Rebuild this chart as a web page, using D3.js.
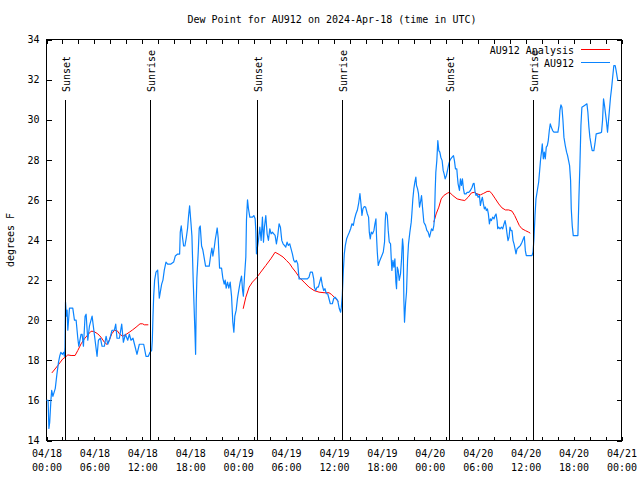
<!DOCTYPE html>
<html><head><meta charset="utf-8">
<script src="https://cdn.jsdelivr.net/npm/d3@7"></script>
<style>
body{margin:0;background:#fff}
svg{display:block}
text{font-family:"DejaVu Sans Mono",monospace;font-size:10px;fill:#000}
</style>
</head><body><svg id="c" width="640" height="480"></svg>
<script>
// Observations (hours after 2024-04-18 00:00 UTC, degrees F)
const obsHours = [0,0.2,0.3,0.4,0.55,0.65,0.8,1.1,1.3,1.5,1.65,1.8,2.0,2.15,2.25,2.32,2.38,2.5,2.58,2.67,2.875,3.29,3.5,3.71,3.92,4.04,4.33,4.46,4.625,4.83,4.96,5.17,5.375,5.71,6.33,6.5,6.75,6.96,7.25,7.46,7.67,7.875,8.21,8.5,8.67,8.83,9.125,9.42,9.625,9.875,10.17,10.375,10.58,10.83,11.08,11.33,11.625,12.17,12.46,12.75,12.96,
13.17,13.25,13.33,13.42,13.54,13.71,13.92,14.125,14.25,14.42,14.58,14.75,14.96,15.17,15.58,15.92,16.125,16.42,16.67,16.75,16.875,17.04,17.17,17.33,17.5,17.67,17.79,17.92,18.08,18.21,18.375,18.58,18.67,18.75,18.83,19.0,19.125,19.25,19.42,19.58,19.75,19.92,20.375,20.58,20.71,20.83,21.0,21.125,21.25,21.375,21.5,21.67,21.92,22.08,22.25,22.375,22.5,22.67,22.83,23.0,23.17,23.33,23.46,23.58,23.75,23.92,24.08,24.25,24.42,24.55,24.65,24.79,24.96,
25.04,25.17,25.29,25.46,25.79,25.96,26.125,26.21,26.29,26.42,26.54,26.71,26.875,27.04,27.17,27.29,27.46,27.625,27.79,27.96,28.125,28.29,28.46,28.625,28.79,28.96,29.125,29.29,29.46,29.625,29.79,29.96,30.125,30.29,30.46,30.625,30.79,30.96,31.125,31.29,31.46,31.625,32.67,32.875,33.04,33.29,33.46,33.54,33.71,33.875,34.04,34.21,34.375,34.54,34.71,34.875,35.04,35.21,35.375,35.54,35.79,35.96,36.125,36.29,36.46,
36.67,36.83,36.92,37.04,37.17,37.29,37.42,37.58,37.75,37.92,38.08,38.25,38.42,38.58,38.75,38.92,39.08,39.25,39.375,39.5,39.625,39.79,39.96,40.17,40.33,40.42,40.54,40.67,40.83,41.0,41.125,41.25,41.33,41.42,41.54,41.67,41.83,42.0,42.17,42.33,42.42,42.5,42.67,42.79,42.92,43.08,43.17,43.25,43.375,43.5,43.625,43.75,43.83,43.92,44.04,44.17,44.33,44.46,44.58,44.67,44.75,44.83,44.96,45.08,45.21,45.33,45.5,45.67,45.75,45.875,46.0,46.125,46.25,46.33,46.46,46.58,46.71,46.83,46.96,47.08,47.25,47.46,47.625,47.79,
47.96,48.21,48.375,48.5,48.58,48.67,48.75,48.875,49.0,49.125,49.25,49.375,49.54,49.67,49.79,49.92,50.08,50.21,50.29,50.375,50.5,50.625,50.79,50.96,51.08,51.21,51.375,51.46,51.54,51.71,51.83,51.96,52.08,52.21,52.33,52.54,52.67,52.875,53.08,53.29,53.42,53.54,53.67,53.79,53.92,54.04,54.21,54.33,54.46,54.58,54.71,54.83,54.96,55.08,55.21,55.33,55.46,55.58,55.71,55.875,56.04,56.17,56.29,56.42,56.5,56.625,56.79,56.96,57.125,57.29,57.42,57.54,57.67,57.79,57.92,58.04,58.17,58.29,58.42,58.54,58.67,58.79,58.92,59.125,59.33,59.54,59.71,59.83,59.96,60.08,60.79,
60.92,61.04,61.17,61.29,61.46,61.625,61.75,61.875,62.0,62.08,62.21,62.33,62.46,62.58,62.71,62.83,62.96,63.08,63.21,63.375,63.54,64.04,64.17,64.29,64.42,64.54,64.67,64.79,64.96,65.125,65.25,65.375,65.5,65.625,65.71,65.83,65.96,66.54,66.67,66.79,66.92,67.04,67.375,67.67,67.79,67.92,68.04,68.21,68.33,68.54,68.67,68.83,69.33,69.5,69.625,69.75,69.875,70.0,70.125,70.25,70.375,70.5,70.625,70.75,70.875,71.04,71.21,71.33,71.46,71.54];
const obsValues = [16.0,16.0,14.6,14.9,16.0,16.5,16.2,16.6,17.3,17.9,18.2,18.4,18.3,18.4,18.2,18.65,20.9,20.2,20.5,19.5,20.6,20.6,20.0,20.0,19.1,18.7,19.3,19.3,18.7,20.2,20.3,19.0,19.7,20.2,18.2,19.0,19.1,18.7,18.7,19.2,18.8,19.0,19.5,19.5,19.8,19.1,19.1,19.8,18.9,19.3,19.0,19.3,19.0,19.1,18.7,18.3,18.8,18.8,18.2,18.2,18.4,
18.5,19.0,20.15,21.2,22.0,22.4,22.5,21.1,21.4,21.8,22.0,22.5,22.9,22.8,22.8,22.9,23.2,23.3,23.3,24.4,24.7,24.1,23.7,23.7,24.1,24.6,25.2,25.7,24.9,24.2,21.9,19.5,18.3,20.9,22.1,23.4,24.6,24.7,23.7,23.5,23.1,22.7,22.7,23.3,23.6,23.2,23.6,24.0,24.3,24.6,24.1,22.6,22.6,22.1,21.8,22.0,21.6,21.9,21.6,21.9,21.2,19.9,19.4,20.2,20.5,21.1,21.5,21.9,22.2,21.5,21.2,22.15,23.15,
25.0,26.0,25.56,25.14,25.14,25.22,25.06,24.47,23.31,23.64,23.98,24.64,23.98,25.14,23.89,24.64,25.22,24.31,23.98,24.56,24.31,24.39,24.31,24.23,23.81,24.23,24.81,24.64,23.98,23.81,23.73,23.64,23.89,23.73,23.81,23.56,23.31,22.98,22.9,22.98,22.81,22.06,22.06,22.15,22.4,22.4,22.06,21.65,21.48,21.65,21.65,21.9,22.15,21.73,21.48,21.57,21.32,21.32,21.07,20.82,20.82,21.07,21.15,21.07,20.99,
20.57,20.4,20.65,21.24,22.48,23.31,23.73,24.06,24.23,24.39,24.56,24.81,24.73,25.06,25.31,25.48,25.81,26.31,25.81,25.23,25.56,25.67,25.64,25.31,25.14,24.39,24.06,24.39,24.31,24.48,24.81,25.06,24.14,23.4,22.73,22.9,23.06,23.23,23.4,23.9,24.98,25.39,25.23,24.48,23.9,23.81,23.06,22.48,22.98,22.65,23.06,21.9,21.57,22.65,22.48,21.98,22.32,23.06,24.06,23.65,20.99,19.9,20.82,21.4,22.98,23.81,24.39,24.89,25.31,26.06,26.56,26.89,27.14,26.72,26.56,26.31,25.64,25.89,26.22,25.64,24.89,24.73,24.48,24.39,
24.14,24.56,24.47,24.72,25.05,26.47,27.38,27.96,28.96,28.46,28.38,28.13,27.96,27.47,27.3,27.05,27.22,27.47,27.63,27.8,27.96,28.05,28.13,28.21,27.96,27.55,27.55,27.13,26.8,26.47,27.05,26.72,27.05,26.55,26.3,26.3,26.38,26.38,26.47,26.63,26.8,26.83,26.38,26.22,26.3,26.13,26.22,25.72,25.97,26.13,25.8,25.55,25.64,25.47,25.55,25.3,24.8,25.05,24.97,25.14,25.05,25.22,25.3,24.97,24.56,24.64,24.56,24.64,24.56,24.8,24.97,24.72,24.3,23.97,24.14,24.64,24.47,24.47,23.97,23.81,23.56,23.31,23.56,23.64,23.72,23.89,24.06,24.17,23.47,23.22,23.22,
23.39,24.06,25.22,26.05,26.47,26.88,27.46,28.05,28.46,28.79,28.05,28.38,28.05,28.63,28.71,28.96,29.46,29.79,29.63,29.46,29.38,29.38,29.71,30.46,30.74,30.62,29.96,29.13,28.71,28.38,28.21,27.96,27.71,26.97,25.55,24.72,24.22,24.22,26.13,27.71,29.71,30.62,30.71,30.79,30.37,29.63,29.13,28.71,28.46,28.46,28.79,29.29,29.34,29.38,29.96,31.04,30.71,30.29,29.88,29.38,29.96,30.54,31.12,31.54,32.04,32.7,32.7,32.45,32.12,31.95];

// Analysis (null marks a gap)
const anaHours = [0.67,1.42,2.04,2.375,2.67,3.08,3.58,3.92,4.33,4.75,5.17,5.58,5.92,6.42,6.83,7.25,7.58,7.875,8.17,8.5,8.83,9.125,9.54,9.96,10.375,10.79,11.21,11.71,12.04,12.25,12.75,
18,
24.625,24.96,25.375,25.79,26.29,26.83,27.46,28.08,28.625,29.125,29.625,30.04,30.46,30.79,31.21,31.71,32.25,32.875,33.5,34.125,34.75,35.375,35.71,36.21,36.54,
42,
48.5,48.79,49.125,49.42,49.75,50.17,50.46,50.875,51.42,51.92,52.375,52.79,53.21,53.58,53.92,54.33,54.75,55.17,55.5,55.79,56.21,56.625,57.04,57.46,57.875,58.29,58.625,58.92,59.21,59.54,59.96,60.375,60.58];
const anaValues = [17.37,17.74,18.07,18.16,18.27,18.24,18.24,18.49,18.82,19.07,19.27,19.45,19.44,19.32,19.15,18.9,18.79,19.02,19.32,19.49,19.49,19.32,19.2,19.29,19.4,19.52,19.65,19.82,19.82,19.77,19.77,
null,
20.57,21.15,21.65,21.9,22.11,22.4,22.73,23.06,23.39,23.28,23.15,22.98,22.81,22.61,22.4,22.11,21.9,21.65,21.48,21.4,21.37,21.37,21.28,21.07,20.93,
null,
24.89,25.3,25.64,26.05,26.22,26.33,26.38,26.22,26.05,26.0,25.97,26.13,26.35,26.38,26.3,26.25,26.33,26.42,26.43,26.3,26.05,25.8,25.6,25.5,25.5,25.44,25.22,24.97,24.72,24.56,24.47,24.39,24.34];

const eventNames = ["Sunset","Sunrise","Sunset","Sunrise","Sunset","Sunrise"];
const eventHours = [2.33,12.94,26.42,36.94,50.41,60.93];
const yTicks = [14,16,18,20,22,24,26,28,30,32,34];
const xLabelHours = [0,6,12,18,24,30,36,42,48,54,60,66,72];
const xMinorHours = d3.range(0,73,2);
const seriesNames = ["AU912 Analysis","AU912"];
const seriesColors = ["#ff0000","#0a84ff"];
const titleText = "Dew Point for AU912 on 2024-Apr-18 (time in UTC)";
const yTitle = "degrees F";

const t0 = Date.UTC(2024,3,18);
const toDate = h => new Date(t0 + h*3600e3);
const L=46.5, R=621.5, T=39.5, B=440.5;
const x = d3.scaleUtc().domain([toDate(0), toDate(72)]).range([L, R]);
const y = d3.scaleLinear().domain([14,34]).range([B, T]);
const svg = d3.select("#c");
const FONT = '"DejaVu Sans Mono",monospace';

// title
svg.append("text").attr("x",332).attr("y",23).attr("text-anchor","middle").text(titleText);
// y title
svg.append("text").attr("transform","translate(14,240) rotate(-90)").attr("text-anchor","middle").text(yTitle);

// axes
function styleAxis(g){ g.select(".domain").remove(); g.attr("font-family",FONT).attr("font-size",10);
  g.selectAll(".tick line").attr("stroke","#000").attr("shape-rendering","crispEdges"); g.selectAll(".tick text").attr("fill","#000"); }
svg.append("g").attr("transform",`translate(0,${B})`)
  .call(d3.axisBottom(x).tickValues(xMinorHours.map(toDate)).tickSizeInner(-4).tickSizeOuter(0).tickFormat(""))
  .call(styleAxis);
svg.append("g").attr("transform",`translate(0,${T})`)
  .call(d3.axisTop(x).tickValues(xMinorHours.map(toDate)).tickSizeInner(-4).tickSizeOuter(0).tickFormat(""))
  .call(styleAxis);
const f1 = d3.utcFormat("%m/%d"), f2 = d3.utcFormat("%H:%M");
const xl = svg.append("g").attr("transform",`translate(0,${B})`)
  .call(d3.axisBottom(x).tickValues(xLabelHours.map(toDate)).tickSize(0).tickSizeOuter(0))
  .call(styleAxis);
xl.selectAll(".tick line").remove();
xl.selectAll(".tick text").each(function(d){
  const t=d3.select(this); t.text(null).attr("dy",null).attr("y",null);
  t.append("tspan").attr("x",0).attr("y",16).text(f1(d));
  t.append("tspan").attr("x",0).attr("y",30).text(f2(d));
});
svg.append("g").attr("transform",`translate(${L},0)`)
  .call(d3.axisLeft(y).tickValues(yTicks).tickSizeInner(-5).tickSizeOuter(0).tickPadding(7).tickFormat(d3.format("d")))
  .call(styleAxis);
svg.append("g").attr("transform",`translate(${R},0)`)
  .call(d3.axisRight(y).tickValues(yTicks).tickSizeInner(-5).tickSizeOuter(0).tickFormat(""))
  .call(styleAxis);

// frame
svg.append("rect").attr("x",L).attr("y",T).attr("width",R-L).attr("height",B-T)
  .attr("fill","none").attr("stroke","#000").attr("shape-rendering","crispEdges");

// data
const anaData = anaHours.map((h,i)=>({t:toDate(h), v:anaValues[i]}));
const obsData = obsHours.map((h,i)=>({t:toDate(h), v:obsValues[i]}));
const line = d3.line().defined(d=>d.v!=null).x(d=>x(d.t)).y(d=>y(d.v));
svg.append("path").datum(anaData).attr("d",line).attr("fill","none").attr("stroke",seriesColors[0]).attr("stroke-width",1);
svg.append("path").datum(obsData).attr("d",line).attr("fill","none").attr("stroke",seriesColors[1]).attr("stroke-width",1.2).attr("stroke-linejoin","round");

// sunrise / sunset markers
eventHours.forEach((h,i)=>{
  const ex = Math.round(x(toDate(h)))+0.5;
  svg.append("line").attr("x1",ex).attr("x2",ex).attr("y1",100).attr("y2",B)
    .attr("stroke","#000").attr("shape-rendering","crispEdges");
  svg.append("text").attr("transform",`translate(${ex+4.5},92) rotate(-90)`).text(eventNames[i]);
});

// legend
seriesNames.forEach((n,i)=>{
  const ly = 49.5 + i*13;
  svg.append("text").attr("x",574).attr("y",ly+4).attr("text-anchor","end").text(n);
  svg.append("line").attr("x1",581).attr("x2",610).attr("y1",ly).attr("y2",ly)
    .attr("stroke",seriesColors[i]).attr("stroke-width",1);
});
</script>
</body></html>
